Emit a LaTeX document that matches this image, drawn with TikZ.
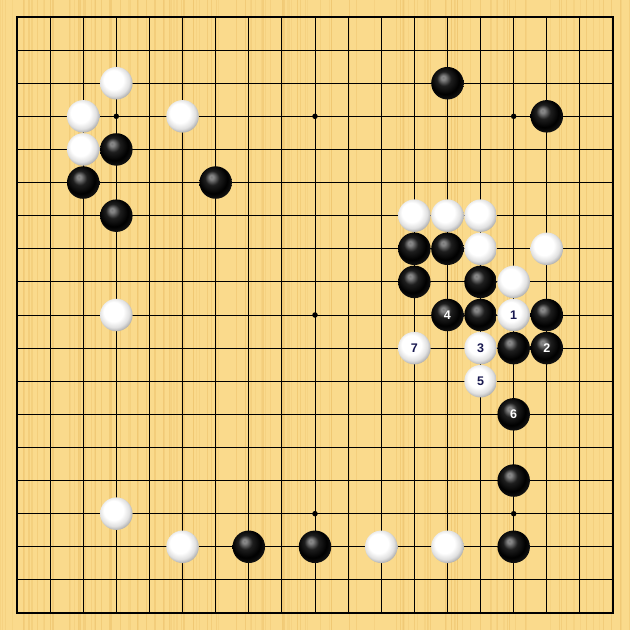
\documentclass[tikz,border=0pt]{standalone}
\usepackage{fontspec}
\setmainfont{Liberation Sans}
\usetikzlibrary{shadings}
\definecolor{board}{RGB}{250,218,140}
\definecolor{grain}{RGB}{238,196,110}
\definecolor{navy}{RGB}{25,25,80}
\pgfdeclareradialshading{wball}{\pgfpoint{-6bp}{7bp}}{%
  color(0bp)=(white); color(15bp)=(white); color(23bp)=(black!12);
  color(30bp)=(black!38); color(50bp)=(black!45)}
\pgfdeclareradialshading{bball}{\pgfpoint{-7bp}{9bp}}{%
  color(0bp)=(black!52); color(3bp)=(black!46); color(11bp)=(black!88);
  color(22bp)=(black); color(31bp)=(black!90); color(50bp)=(black!75)}
\tikzset{
  gridline/.style={black, line width=1pt},
  border/.style={black, line width=1.7pt},
  hoshi/.style={circle, fill=black, inner sep=0pt, minimum size=5.5pt},
  stone/.style={circle, inner sep=0pt, minimum size=32.5pt, font=\bfseries\fontsize{12.5}{14}\selectfont},
  bstone/.style={stone, shading=bball, text=white},
  wstone/.style={stone, shading=wball, text=navy},
}
\begin{document}
\begin{tikzpicture}[x=33.111pt, y=-33.111pt]
\useasboundingbox (-0.5134,-0.5134) rectangle (18.5134,18.5134);
\fill[board] (-0.5134,-0.5134) rectangle (18.5134,18.5134);
% wood grain
\pgfmathsetseed{7}
\foreach \i in {1,...,140}{
  \pgfmathsetmacro{\gxx}{rnd*19.03-0.5134}
  \pgfmathsetmacro{\gop}{0.25+rnd*0.4}
  \pgfmathsetmacro{\gw}{0.3+rnd*1.2}
  \draw[grain, opacity=\gop, line width=\gw pt] (\gxx,-0.5134) -- (\gxx,18.5134);
}
% grid
\foreach \k in {1,...,17}{
  \draw[gridline] (\k,0) -- (\k,18);
  \draw[gridline] (0,\k) -- (18,\k);
}
\draw[border] (0,0) rectangle (18,18);
% star points
\foreach \a/\b [count=\n] in {3/3,9/3,15/3,3/9,9/9,15/9,3/15,9/15,15/15}{
  \node[hoshi] (h\n) at (\a,\b) {};
}
% white stones
\foreach \a/\b [count=\n] in {3/2,2/3,5/3,2/4,12/6,13/6,14/6,14/7,16/7,15/8,3/9,3/15,5/16,11/16,13/16}{
  \node[wstone] (w\n) at (\a,\b) {};
}
% black stones
\foreach \a/\b [count=\n] in {13/2,16/3,3/4,2/5,6/5,3/6,12/7,13/7,12/8,14/8,14/9,16/9,15/10,15/14,7/16,9/16,15/16}{
  \node[bstone] (b\n) at (\a,\b) {};
}
% numbered moves
\node[wstone] (m1) at (15,9) {1};
\node[bstone] (m2) at (16,10) {2};
\node[wstone] (m3) at (14,10) {3};
\node[bstone] (m4) at (13,9) {4};
\node[wstone] (m5) at (14,11) {5};
\node[bstone] (m6) at (15,12) {6};
\node[wstone] (m7) at (12,10) {7};
\end{tikzpicture}
\end{document}
